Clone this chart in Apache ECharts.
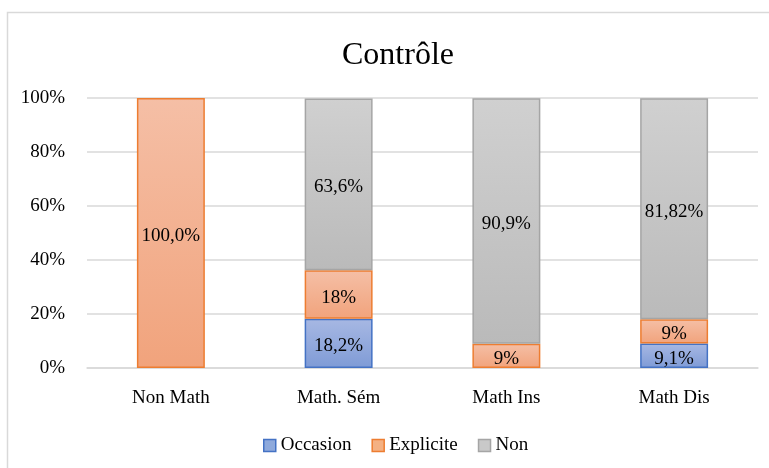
<!DOCTYPE html>
<html>
<head>
<meta charset="utf-8">
<script src="https://cdn.jsdelivr.net/npm/echarts@6/dist/echarts.min.js"></script>
<style>
html,body{margin:0;padding:0;background:#fff;}
#chart{width:769px;height:468px;}
</style>
</head>
<body>
<div id="chart"></div>
<script>
const title = 'Contrôle';
const categories = ['Non Math', 'Math. Sém', 'Math Ins', 'Math Dis'];
const seriesNames = ['Occasion', 'Explicite', 'Non'];
const occasionValues = [null, 18.2, null, 9.1];
const expliciteValues = [100, 18, 9, 9];
const nonValues = [null, 63.6, 90.9, 81.82];
const occasionLabels = ['', '18,2%', '', '9,1%'];
const expliciteLabels = ['100,0%', '18%', '9%', '9%'];
const nonLabels = ['', '63,6%', '90,9%', '81,82%'];
const yTicks = [0, 20, 40, 60, 80, 100];

const FONT = '"Liberation Serif", "DejaVu Serif", serif';

function grad(top, bottom) {
  return new echarts.graphic.LinearGradient(0, 0, 0, 1, [
    {offset: 0, color: top}, {offset: 1, color: bottom}
  ]);
}

const styles = [
  {fill: grad('#a7b8e3', '#7f9bd6'), border: '#4472c4', legend: '#8faadc'},
  {fill: grad('#f5bfa6', '#f1a37c'), border: '#ed7d31', legend: '#f4b183'},
  {fill: grad('#d0d0d0', '#bababa'), border: '#a5a5a5', legend: '#c9c9c9'}
];
const valuesList = [occasionValues, expliciteValues, nonValues];
const labelsList = [occasionLabels, expliciteLabels, nonLabels];

const chart = echarts.init(document.getElementById('chart'), null, {renderer: 'canvas'});
chart.setOption({
  animation: false,
  backgroundColor: '#fff',
  graphic: [{
    type: 'rect', silent: true, z: -1,
    shape: {x: 7.5, y: 12.5, width: 800, height: 500},
    style: {fill: 'none', stroke: '#d9d9d9', lineWidth: 1.5}
  }],
  title: {
    text: title, left: 337, top: 35,
    textStyle: {fontFamily: FONT, fontSize: 32, fontWeight: 'normal', color: '#000'}
  },
  legend: {
    top: 431, left: 258, itemWidth: 12, itemHeight: 12, itemGap: 20,
    icon: 'rect',
    textStyle: {fontFamily: FONT, fontSize: 19, color: '#000'},
    data: seriesNames.map((n, i) => ({
      name: n,
      itemStyle: {color: styles[i].legend, borderColor: styles[i].border, borderWidth: 1.5}
    }))
  },
  grid: {left: 87, right: 11, top: 98, bottom: 100, containLabel: false},
  xAxis: {
    type: 'category', data: categories,
    axisLine: {lineStyle: {color: '#d9d9d9', width: 1.5}},
    axisTick: {show: false},
    axisLabel: {fontFamily: FONT, fontSize: 19, color: '#000', margin: 21}
  },
  yAxis: {
    type: 'value', min: 0, max: 100, interval: 20,
    axisLine: {show: false}, axisTick: {show: false},
    splitLine: {lineStyle: {color: '#d9d9d9', width: 1.5}},
    axisLabel: {
      fontFamily: FONT, fontSize: 19, color: '#000', margin: 22,
      formatter: v => yTicks.includes(v) ? v + '%' : ''
    }
  },
  series: seriesNames.map((n, i) => ({
    name: n, type: 'bar', stack: 'total', barWidth: '40.5%',
    data: valuesList[i],
    itemStyle: {color: styles[i].fill, borderColor: styles[i].border, borderWidth: 1.5},
    label: {
      show: true, position: 'inside', offset: [0, 3],
      fontFamily: FONT, fontSize: 19, color: '#000',
      formatter: p => labelsList[i][p.dataIndex]
    }
  }))
});
</script>
</body>
</html>
